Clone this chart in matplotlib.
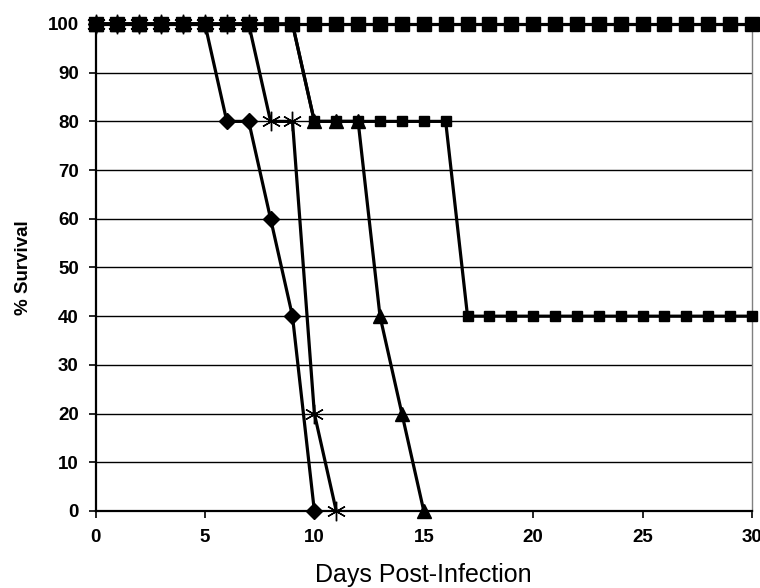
import numpy as np
import matplotlib
matplotlib.use('Agg')
import matplotlib.pyplot as plt

plt.rcParams['font.family'] = ['Liberation Sans', 'DejaVu Sans']

days = list(range(0, 31))

# survival per group (%)
diamond_x = [0, 1, 2, 3, 4, 5, 6, 7, 8, 9, 10]
diamond_y = [100, 100, 100, 100, 100, 100, 80, 80, 60, 40, 0]

star_x = [0, 1, 2, 3, 4, 5, 6, 7, 8, 9, 10, 11]
star_y = [100, 100, 100, 100, 100, 100, 100, 100, 80, 80, 20, 0]

tri_x = [0, 1, 2, 3, 4, 5, 6, 7, 8, 9, 10, 11, 12, 13, 14, 15]
tri_y = [100, 100, 100, 100, 100, 100, 100, 100, 100, 100, 80, 80, 80, 40, 20, 0]

sq_small_y = [100] * 10 + [80] * 7 + [40] * 14
sq_big_y = [100] * 31

fig = plt.figure(figsize=(7.6, 5.88), dpi=100)
ax = fig.add_axes([0.1257, 0.131, 0.8638, 0.8282])

for yy in range(10, 100, 10):
    ax.axhline(yy, color='black', lw=1.0, zorder=1)

lw = 2.3
ax.plot(days, sq_small_y, color='black', lw=lw, marker='s', ms=7,
        clip_on=False, zorder=3)
ax.plot(tri_x, tri_y, color='black', lw=lw, marker='^', ms=9.5,
        clip_on=False, zorder=4)
ax.plot(diamond_x, diamond_y, color='black', lw=lw, marker='D', ms=8.5,
        clip_on=False, zorder=4)
ax.plot(star_x, star_y, color='black', lw=lw, marker=(6, 2, 0), ms=14,
        mew=1.0, clip_on=False, zorder=5)
ax.plot(days, sq_big_y, color='black', lw=lw, marker='s', ms=9.5,
        clip_on=False, zorder=6)

ax.set_xlim(0, 30)
ax.set_ylim(0, 100)
ax.set_xticks(range(0, 31, 5))
ax.set_yticks(range(0, 101, 10))

ax.spines['top'].set_visible(False)
ax.spines['right'].set_color('#808080')
ax.spines['right'].set_linewidth(1.0)
ax.spines['left'].set_linewidth(1.6)
ax.spines['bottom'].set_linewidth(1.6)
ax.tick_params(direction='out', length=5, width=1.2, labelsize=13.5)
ax.tick_params(axis='x', pad=8)
ax.tick_params(axis='y', pad=7)
for lab in ax.get_xticklabels() + ax.get_yticklabels():
    lab.set_fontweight('bold')

ax.set_xlabel('Days Post-Infection', fontsize=18, labelpad=12)
ax.set_ylabel('% Survival', fontsize=13.5, fontweight='bold', labelpad=11)

plt.savefig('out.png', dpi=100)
